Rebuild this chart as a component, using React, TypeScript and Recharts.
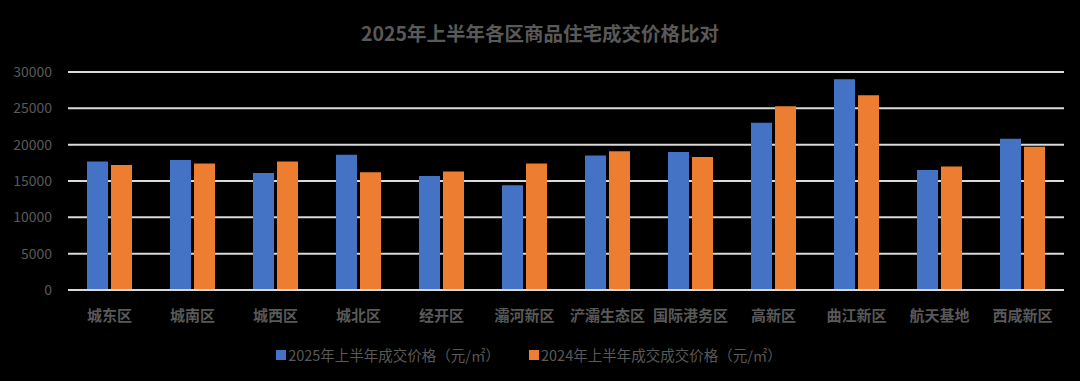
import React from "react";
import { BarChart, Bar, XAxis, YAxis, CartesianGrid, Legend } from "recharts";

const districts = [
  "城东区",
  "城南区",
  "城西区",
  "城北区",
  "经开区",
  "灞河新区",
  "浐灞生态区",
  "国际港务区",
  "高新区",
  "曲江新区",
  "航天基地",
  "西咸新区",
];
const price2025 = [17700, 17900, 16100, 18600, 15700, 14400, 18500, 19000, 23000, 29000, 16500, 20800];
const price2024 = [17200, 17400, 17700, 16200, 16300, 17400, 19100, 18300, 25300, 26800, 17000, 19700];
const yTicks = [0, 5000, 10000, 15000, 20000, 25000, 30000];

const name2025 = "2025年上半年成交价格（元/㎡）";
const name2024 = "2024年上半年成交成交价格（元/㎡）";

const data = districts.map((d, i) => ({ name: d, a: price2025[i], b: price2024[i] }));

const FONT = '"Noto Sans CJK SC", "Noto Sans", sans-serif';
const GRAY = "#595959";

const LegendContent = (props: any) => {
  const items = [...(props.payload || [])].sort((x: any, y: any) =>
    String(x.dataKey).localeCompare(String(y.dataKey))
  );
  return (
    <div
      style={{
        display: "flex",
        justifyContent: "center",
        alignItems: "center",
        fontFamily: FONT,
        fontSize: 14.5,
        color: GRAY,
        transform: "translateX(-11px)",
        lineHeight: "20px",
      }}
    >
      {items.map((it: any, i: number) => (
        <div key={i} style={{ display: "flex", alignItems: "center", marginLeft: i === 0 ? 0 : 29 }}>
          <span style={{ display: "inline-block", width: 10, height: 10, background: it.color, marginRight: 2 }} />
          <span>{it.value}</span>
        </div>
      ))}
    </div>
  );
};

export default function App() {
  return (
    <div style={{ position: "absolute", left: 0, top: 0, width: 1080, height: 381, background: "#000", overflow: "hidden" }}>
      <div
        style={{
          position: "absolute",
          top: 20,
          left: 0,
          width: 1080,
          textAlign: "center",
          fontFamily: FONT,
          fontWeight: 700,
          fontSize: 19.5,
          color: GRAY,
          lineHeight: "26px",
          zIndex: 2,
        }}
      >
        2025年上半年各区商品住宅成交价格比对
      </div>
      <BarChart
        width={1080}
        height={381}
        data={data}
        margin={{ top: 72, right: 16, left: 0, bottom: 51 }}
        barGap={3}
        barSize={21}
      >
        <CartesianGrid vertical={false} stroke="#d9d9d9" strokeWidth={2} />
        <XAxis
          dataKey="name"
          axisLine={{ stroke: "#d9d9d9", strokeWidth: 2 }}
          tickLine={false}
          tickSize={0}
          tickMargin={20}
          height={40}
          interval={0}
          tick={{ fill: GRAY, fontSize: 15, fontWeight: 700, fontFamily: FONT }}
        />
        <YAxis
          width={68}
          domain={[0, 30000]}
          ticks={yTicks}
          axisLine={false}
          tickLine={false}
          tickSize={0}
          tickMargin={16}
          tick={{ fill: GRAY, fontSize: 14, fontFamily: FONT }}
        />
        <Legend
          verticalAlign="middle"
          align="center"
          layout="horizontal"
          content={<LegendContent />}
          wrapperStyle={{ top: 345, left: 0, width: 1080, height: 22 }}
        />
        <Bar dataKey="a" name={name2025} fill="#4472C4" isAnimationActive={false} />
        <Bar dataKey="b" name={name2024} fill="#ED7D31" isAnimationActive={false} />
      </BarChart>
    </div>
  );
}
